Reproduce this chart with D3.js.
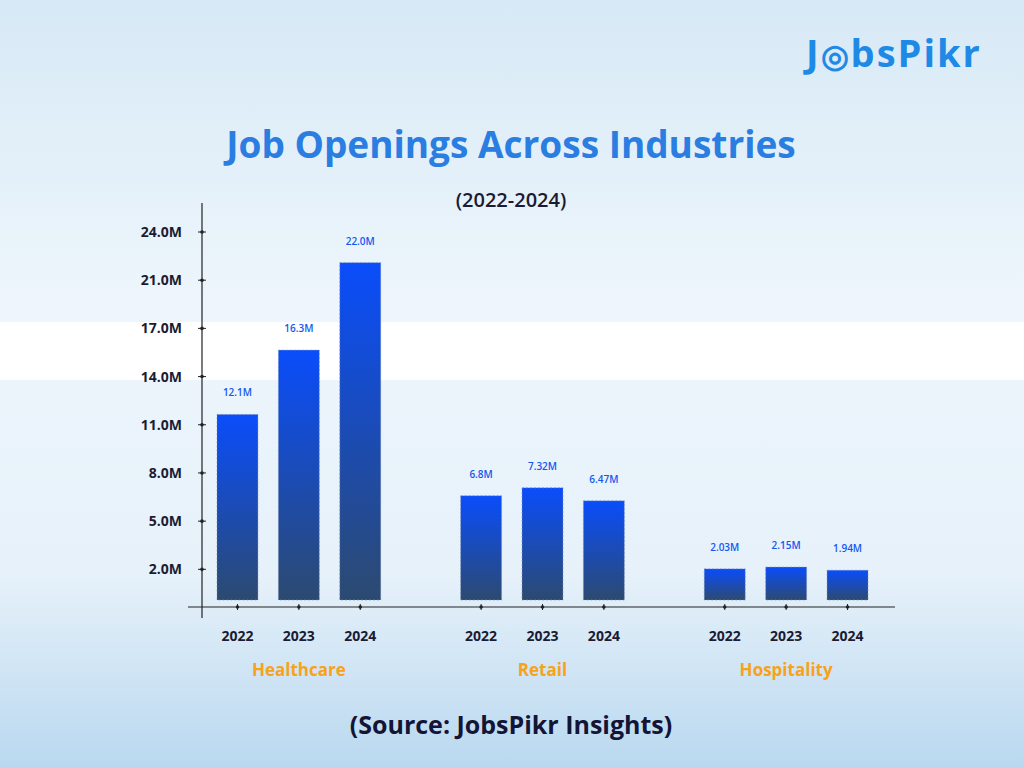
<!DOCTYPE html>
<html>
<head>
<meta charset="utf-8">
<script src="https://cdn.jsdelivr.net/npm/d3@7"></script>
<style>
  body { margin: 0; }
  svg { display: block; font-family: "Open Sans", sans-serif; }
</style>
</head>
<body>
<svg id="chart" width="1024" height="768"></svg>
<script>
// data
const industries = ["Healthcare", "Retail", "Hospitality"];
const years = ["2022", "2023", "2024"];
const values = [
  [12.1, 16.3, 22.0],
  [6.8, 7.32, 6.47],
  [2.03, 2.15, 1.94]
];
const valueLabels = [
  ["12.1M", "16.3M", "22.0M"],
  ["6.8M", "7.32M", "6.47M"],
  ["2.03M", "2.15M", "1.94M"]
];
const tickLabels = ["2.0M", "5.0M", "8.0M", "11.0M", "14.0M", "17.0M", "21.0M", "24.0M"];

const svg = d3.select("#chart");
const defs = svg.append("defs");

// background
const bg = defs.append("linearGradient").attr("id", "bg").attr("x1", 0).attr("y1", 0).attr("x2", 0).attr("y2", 1);
bg.append("stop").attr("offset", "0%").attr("stop-color", "#d7e9f6");
bg.append("stop").attr("offset", "40%").attr("stop-color", "#eef6fc");
bg.append("stop").attr("offset", "75%").attr("stop-color", "#e6f1fa");
bg.append("stop").attr("offset", "100%").attr("stop-color", "#b9d8ef");
svg.append("rect").attr("width", 1024).attr("height", 768).attr("fill", "url(#bg)");
svg.append("rect").attr("y", 322).attr("width", 1024).attr("height", 58).attr("fill", "#fff");

const barGrad = defs.append("linearGradient").attr("id", "bar").attr("x1", 0).attr("y1", 0).attr("x2", 0).attr("y2", 1);
barGrad.append("stop").attr("offset", "0%").attr("stop-color", "#0a4dfb");
barGrad.append("stop").attr("offset", "100%").attr("stop-color", "#2c4a70");

// logo
const logo = svg.append("text").attr("x", 806).attr("y", 67)
  .attr("font-size", 38).attr("font-weight", 700).attr("fill", "#1f8ae6")
  .attr("letter-spacing", 2);
logo.append("tspan").text("J");
logo.append("tspan").text("\u25CE").attr("font-size", 32);
logo.append("tspan").text("bsPikr");

// titles
svg.append("text").attr("x", 511).attr("y", 158).attr("text-anchor", "middle")
  .attr("font-size", 37).attr("font-weight", 700).attr("fill", "#2a7de1")
  .text("Job Openings Across Industries");
svg.append("text").attr("x", 511).attr("y", 207).attr("text-anchor", "middle")
  .attr("font-size", 20).attr("font-weight", 600).attr("fill", "#1b1b33")
  .text("(2022-2024)");

// scales
const y = d3.scaleLinear().domain([0, 24]).range([600, 232]);
const groupX = d3.scaleBand().domain(industries).range([217, 868]).paddingInner(0.328).paddingOuter(0);
const barX = d3.scaleBand().domain(years).range([0, groupX.bandwidth()]).paddingInner(0.333).paddingOuter(0);
const tickPos = d3.scalePoint().domain(tickLabels).range([y(2), y(24)]);

// axes
svg.append("line").attr("x1", 202).attr("x2", 202).attr("y1", 203).attr("y2", 618)
  .attr("stroke", "#222").attr("stroke-width", 1.2);
svg.append("line").attr("x1", 188).attr("x2", 895).attr("y1", 607).attr("y2", 607)
  .attr("stroke", "#222").attr("stroke-width", 1.2);

tickLabels.forEach(t => {
  const ty = tickPos(t);
  svg.append("line").attr("x1", 198).attr("x2", 206).attr("y1", ty).attr("y2", ty).attr("stroke", "#222");
  svg.append("circle").attr("cx", 202).attr("cy", ty).attr("r", 1.8).attr("fill", "#222");
  svg.append("text").attr("x", 182).attr("y", ty + 5).attr("text-anchor", "end")
    .attr("font-size", 14).attr("font-weight", 700).attr("fill", "#1b1b33").text(t);
});

// bars
industries.forEach((ind, i) => {
  const g = svg.append("g").attr("transform", `translate(${groupX(ind)},0)`);
  years.forEach((yr, j) => {
    const x0 = barX(yr), w = barX.bandwidth(), cx = x0 + w / 2;
    g.append("rect").attr("x", x0).attr("y", y(values[i][j]))
      .attr("width", w).attr("height", y(0) - y(values[i][j]))
      .attr("fill", "url(#bar)").attr("stroke", "#7d8fb0").attr("stroke-width", 0.6)
      .attr("stroke-dasharray", "2,2");
    g.append("text").attr("x", cx).attr("y", y(values[i][j]) - 18).attr("text-anchor", "middle")
      .attr("font-size", 10).attr("font-weight", 600).attr("fill", "#1458f0").text(valueLabels[i][j]);
    g.append("line").attr("x1", cx).attr("x2", cx).attr("y1", 604).attr("y2", 610).attr("stroke", "#222");
    g.append("circle").attr("cx", cx).attr("cy", 607).attr("r", 1.8).attr("fill", "#222");
    g.append("text").attr("x", cx).attr("y", 641).attr("text-anchor", "middle")
      .attr("font-size", 14).attr("font-weight", 700).attr("fill", "#1b1b33").text(yr);
  });
  g.append("text").attr("x", groupX.bandwidth() / 2).attr("y", 676).attr("text-anchor", "middle")
    .attr("font-size", 17).attr("font-weight", 700).attr("fill", "#f7a21b").text(ind);
});

svg.append("text").attr("x", 511).attr("y", 734).attr("text-anchor", "middle")
  .attr("font-size", 25).attr("font-weight", 700).attr("fill", "#141437")
  .text("(Source: JobsPikr Insights)");
</script>
</body>
</html>
